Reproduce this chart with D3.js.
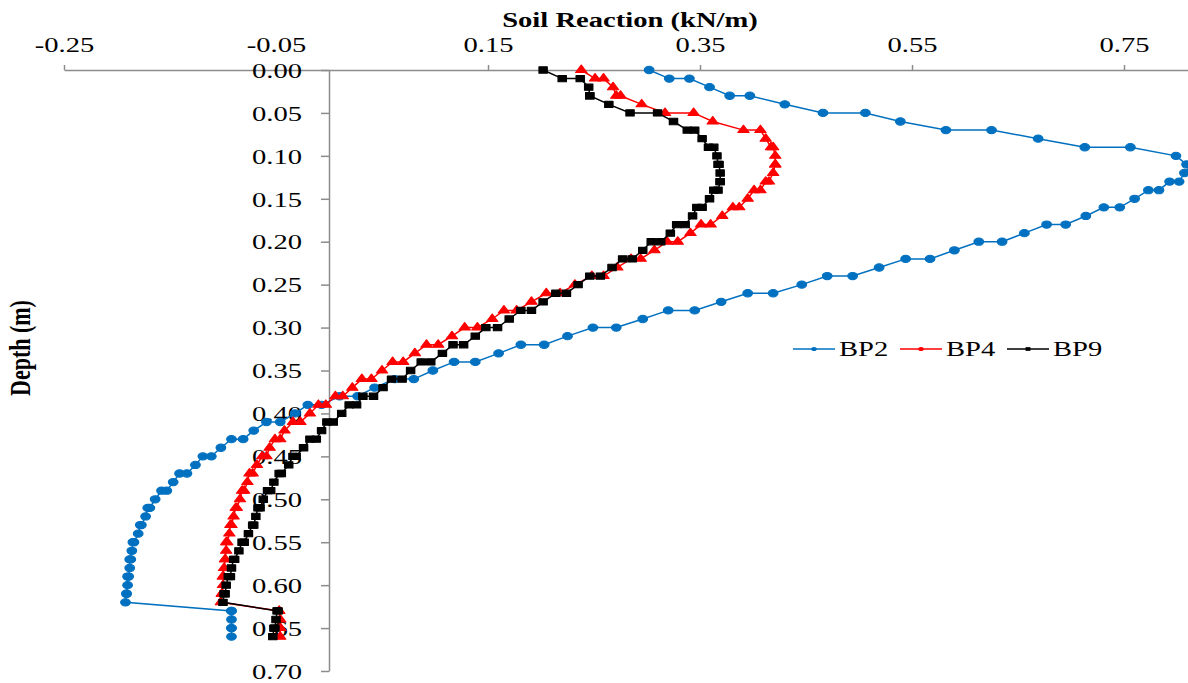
<!DOCTYPE html>
<html>
<head>
<meta charset="utf-8">
<script src="https://cdn.jsdelivr.net/npm/d3@7"></script>
<style>
  body { margin: 0; background: #fff; }
  svg { display: block; font-family: 'Liberation Serif', 'Times New Roman', serif; }
</style>
</head>
<body>
<svg id="chart" width="1188" height="683"></svg>
<script>
// depth (m) shared by all three piles
const depth = [
  0.00, 0.01, 0.01, 0.02, 0.03, 0.03, 0.04, 0.05, 0.05, 0.06,
  0.07, 0.07, 0.08, 0.09, 0.09, 0.10, 0.11, 0.11, 0.12, 0.13,
  0.13, 0.14, 0.14, 0.15, 0.16, 0.16, 0.17, 0.18, 0.18, 0.19,
  0.20, 0.20, 0.21, 0.22, 0.22, 0.23, 0.24, 0.24, 0.25, 0.26,
  0.26, 0.27, 0.28, 0.28, 0.29, 0.30, 0.30, 0.31, 0.32, 0.32,
  0.33, 0.34, 0.34, 0.35, 0.36, 0.36, 0.37, 0.38, 0.38, 0.39,
  0.39, 0.40, 0.41, 0.41, 0.42, 0.43, 0.43, 0.44, 0.45, 0.45,
  0.46, 0.47, 0.47, 0.48, 0.49, 0.49, 0.50, 0.51, 0.51, 0.52,
  0.53, 0.53, 0.54, 0.55, 0.55, 0.56, 0.57, 0.57, 0.58, 0.59,
  0.59, 0.60, 0.61, 0.61, 0.62, 0.63, 0.63, 0.64, 0.65, 0.65,
  0.66
];

// soil reaction (kN/m)
const bp2 = [
  0.302, 0.321, 0.340, 0.359, 0.378, 0.397, 0.430, 0.466, 0.506, 0.539,
  0.582, 0.625, 0.669, 0.713, 0.756, 0.799, 0.809, 0.814, 0.807, 0.802,
  0.793, 0.783, 0.773, 0.760, 0.746, 0.731, 0.714, 0.695, 0.677, 0.656,
  0.635, 0.613, 0.590, 0.567, 0.544, 0.519, 0.494, 0.470, 0.446, 0.419,
  0.395, 0.370, 0.345, 0.320, 0.296, 0.271, 0.249, 0.225, 0.203, 0.181,
  0.160, 0.138, 0.118, 0.098, 0.080, 0.062, 0.043, 0.027, 0.010, -0.007,
  -0.020, -0.032, -0.046, -0.059, -0.071, -0.081, -0.092, -0.102, -0.111, -0.119,
  -0.126, -0.134, -0.141, -0.147, -0.153, -0.158, -0.164, -0.169, -0.171, -0.173,
  -0.177, -0.178, -0.180, -0.184, -0.185, -0.186, -0.187, -0.188, -0.188, -0.189,
  -0.190, -0.190, -0.191, -0.191, -0.192, -0.092, -0.092, -0.092, -0.092, -0.092,
  -0.092
];

const bp4 = [
  0.238, 0.251, 0.259, 0.268, 0.271, 0.275, 0.295, 0.317, 0.344, 0.362,
  0.391, 0.407, 0.412, 0.417, 0.419, 0.421, 0.421, 0.421, 0.419, 0.415,
  0.412, 0.407, 0.401, 0.395, 0.387, 0.381, 0.371, 0.360, 0.351, 0.341,
  0.329, 0.319, 0.307, 0.294, 0.285, 0.272, 0.259, 0.248, 0.232, 0.218,
  0.205, 0.191, 0.177, 0.165, 0.154, 0.140, 0.128, 0.116, 0.103, 0.092,
  0.081, 0.070, 0.060, 0.050, 0.040, 0.031, 0.022, 0.013, 0.006, -0.003,
  -0.010, -0.018, -0.027, -0.034, -0.042, -0.046, -0.051, -0.056, -0.059, -0.063,
  -0.068, -0.072, -0.075, -0.077, -0.080, -0.082, -0.084, -0.087, -0.088, -0.090,
  -0.092, -0.093, -0.094, -0.096, -0.097, -0.097, -0.098, -0.098, -0.099, -0.100,
  -0.100, -0.100, -0.101, -0.101, -0.102, -0.047, -0.047, -0.046, -0.046, -0.046,
  -0.046
];

const bp9 = [
  0.202, 0.220, 0.237, 0.245, 0.246, 0.246, 0.264, 0.284, 0.310, 0.325,
  0.338, 0.345, 0.352, 0.358, 0.363, 0.366, 0.367, 0.368, 0.369, 0.369,
  0.369, 0.367, 0.363, 0.359, 0.352, 0.347, 0.343, 0.336, 0.328, 0.322,
  0.313, 0.304, 0.296, 0.286, 0.277, 0.267, 0.256, 0.246, 0.235, 0.224,
  0.214, 0.202, 0.191, 0.181, 0.170, 0.159, 0.148, 0.138, 0.127, 0.117,
  0.107, 0.096, 0.087, 0.077, 0.069, 0.059, 0.051, 0.042, 0.032, 0.026,
  0.019, 0.012, 0.004, -0.002, -0.007, -0.012, -0.018, -0.024, -0.031, -0.034,
  -0.038, -0.045, -0.047, -0.052, -0.055, -0.058, -0.062, -0.065, -0.067, -0.069,
  -0.071, -0.072, -0.076, -0.080, -0.082, -0.085, -0.089, -0.090, -0.092, -0.093,
  -0.095, -0.097, -0.098, -0.099, -0.100, -0.048, -0.049, -0.050, -0.051, -0.052,
  -0.053
];

const seriesNames = ['BP2', 'BP4', 'BP9'];
const xTicks = [-0.25, -0.05, 0.15, 0.35, 0.55, 0.75];
const yTicks = [0, 0.05, 0.10, 0.15, 0.20, 0.25, 0.30, 0.35, 0.40, 0.45, 0.50, 0.55, 0.60, 0.65, 0.70];

const series = [
  { name: seriesNames[0], values: bp2, color: '#0070c0', symbol: d3.symbolCircle, size: 42 },
  { name: seriesNames[1], values: bp4, color: '#ff0000', symbol: d3.symbolTriangle, size: 32 },
  { name: seriesNames[2], values: bp9, color: '#000000', symbol: d3.symbolSquare, size: 40 }
];

// the original picture is stretched sideways, so text and markers are too
const stretch = 'scale(1.3,1)';
const axisColor = '#8c8c8c';
const font = "'Liberation Serif', 'Times New Roman', serif";

const svg = d3.select('#chart');

const x = d3.scaleLinear()
    .domain([-0.25, 0.85])
    .range([64, 1230]);

const y = d3.scaleLinear()
    .domain([0, 0.7])
    .range([70, 671]);

// axes

const xAxis = d3.axisTop(x)
    .tickValues(xTicks)
    .tickFormat(d => d.toFixed(2))
    .tickSize(5)
    .tickSizeOuter(0)
    .tickPadding(13);

const yAxis = d3.axisLeft(y)
    .tickValues(yTicks)
    .tickFormat(d => d.toFixed(2))
    .tickSize(8)
    .tickSizeOuter(0);

svg.append('g')
    .attr('class', 'x axis')
    .attr('transform', `translate(0, ${y(0)})`)
    .call(xAxis)
    .attr('font-family', font)
    .attr('font-size', 22)
    .call(g => g.selectAll('.domain, .tick line')
        .attr('stroke', axisColor)
        .attr('stroke-width', 1.5))
    .call(g => g.selectAll('.tick text')
        .attr('fill', '#000')
        .attr('transform', stretch));

svg.append('g')
    .attr('class', 'y axis')
    .attr('transform', `translate(${x(0)}, 0)`)
    .call(yAxis)
    .attr('font-family', font)
    .attr('font-size', 22)
    .call(g => g.selectAll('.domain, .tick line')
        .attr('stroke', axisColor)
        .attr('stroke-width', 1.5))
    .call(g => g.selectAll('.tick text')
        .attr('fill', '#000')
        .attr('x', 0)
        .attr('dy', '0.33em')
        .attr('transform', `translate(-27, 0) ${stretch}`));

// titles

svg.append('text')
    .attr('transform', `translate(630, 27) ${stretch}`)
    .attr('text-anchor', 'middle')
    .attr('font-family', font)
    .attr('font-size', 22)
    .attr('font-weight', 'bold')
    .text('Soil Reaction (kN/m)');

svg.append('text')
    .attr('transform', `translate(30, 348) ${stretch} rotate(-90)`)
    .attr('text-anchor', 'middle')
    .attr('font-family', font)
    .attr('font-size', 22)
    .attr('font-weight', 'bold')
    .text('Depth (m)');

// series

const line = d3.line()
    .x(d => x(d.v))
    .y(d => y(d.d));

const plot = svg.append('g').attr('class', 'series');

series.forEach(s => {
  const rows = depth.map((d, i) => ({ d: d, v: s.values[i] }));

  const g = plot.append('g');

  g.append('path')
      .datum(rows)
      .attr('fill', 'none')
      .attr('stroke', s.color)
      .attr('stroke-width', 1.5)
      .attr('d', line);

  g.selectAll('.marker')
    .data(rows)
    .join('path')
      .attr('class', 'marker')
      .attr('d', d3.symbol().type(s.symbol).size(s.size))
      .attr('transform', d => `translate(${x(d.v)}, ${y(d.d)}) ${stretch}`)
      .attr('fill', s.color)
      .attr('stroke', s.color)
      .attr('stroke-width', 1)
      .attr('stroke-linejoin', 'round');
});

// legend

const legendX = [793, 900, 1007];
const legendY = 349;

const legend = svg.append('g')
    .attr('class', 'legend')
    .selectAll('g')
    .data(series)
    .join('g')
      .attr('transform', (d, i) => `translate(${legendX[i]}, ${legendY})`);

legend.append('line')
    .attr('x1', 0)
    .attr('x2', 42)
    .attr('stroke', d => d.color)
    .attr('stroke-width', 1.5);

legend.append('path')
    .attr('d', d => d3.symbol().type(d.symbol === d3.symbolTriangle ? d3.symbolCircle : d.symbol).size(14)())
    .attr('transform', `translate(21, 0) ${stretch}`)
    .attr('fill', d => d.color);

legend.append('text')
    .attr('transform', `translate(46, 7) ${stretch}`)
    .attr('font-family', font)
    .attr('font-size', 22)
    .attr('fill', '#000')
    .text(d => d.name);
</script>
</body>
</html>
